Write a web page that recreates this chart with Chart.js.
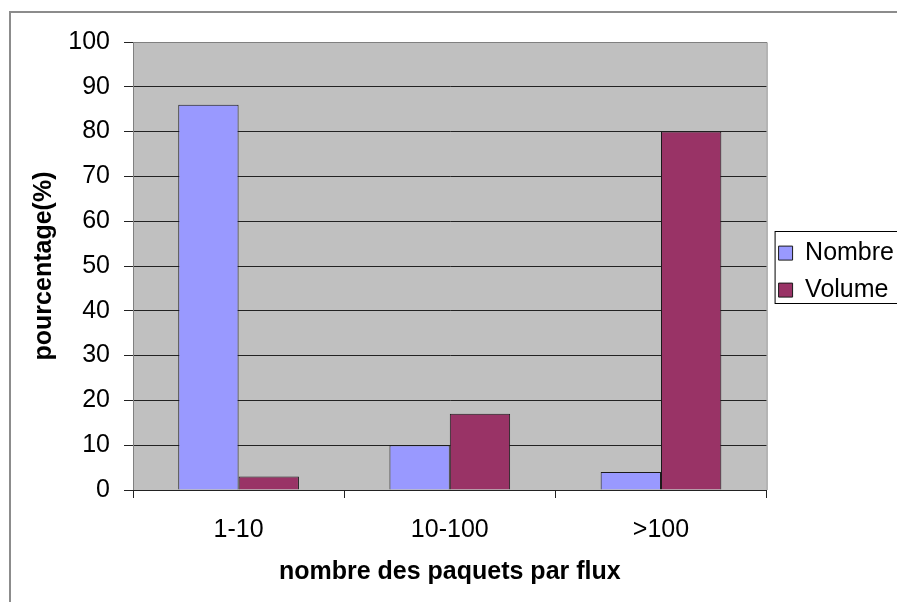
<!DOCTYPE html>
<html>
<head>
<meta charset="utf-8">
<script src="https://cdn.jsdelivr.net/npm/chart.js@4"></script>
<style>
  html, body { margin: 0; padding: 0; background: #fff; overflow: hidden; }
  #wrap { width: 897px; height: 602px; overflow: hidden; }
  canvas { display: block; }
</style>
</head>
<body>
<div id="wrap"><canvas id="flux-chart" width="920" height="620"></canvas></div>
<script>
// data
const categories = ['1-10', '10-100', '>100'];
const nombre = [86, 10, 4];
const volume = [3, 17, 80];
const yMin = 0, yMax = 100, yStep = 10;

Chart.defaults.font.family = "'Liberation Sans', Arial, sans-serif";
Chart.defaults.color = '#000';

// grey plot area, outer frame, legend frame
const excelLook = {
    id: 'excelLook',
    beforeDraw(chart) {
        const { ctx, chartArea: a } = chart;
        ctx.save();
        ctx.fillStyle = '#fff';
        ctx.fillRect(0, 0, chart.width, chart.height);
        ctx.strokeStyle = '#8c8c8c';
        ctx.lineWidth = 2;
        ctx.strokeRect(10, 12, chart.width + 20, chart.height - 6);
        ctx.fillStyle = '#c0c0c0';
        ctx.fillRect(a.left, a.top, a.right - a.left, a.bottom - a.top);
        ctx.restore();
    },
    afterDraw(chart) {
        const { ctx, chartArea: a, legend } = chart;
        ctx.save();
        ctx.strokeStyle = '#808080';
        ctx.lineWidth = 1;
        ctx.beginPath();
        ctx.moveTo(a.left, a.top + 0.5);
        ctx.lineTo(a.right + 0.5, a.top + 0.5);
        ctx.lineTo(a.right + 0.5, a.bottom);
        ctx.stroke();
        const boxes = legend.legendHitBoxes;
        if (boxes.length) {
            const top = boxes[0].top - 10;
            const last = boxes[boxes.length - 1];
            const bottom = last.top + last.height;
            ctx.strokeStyle = '#000';
            ctx.strokeRect(legend.left + 8.5, Math.round(top) + 0.5, chart.width, Math.round(bottom - top));
        }
        ctx.restore();
    }
};

const fluxChart = new Chart(document.getElementById('flux-chart'), {
    type: 'bar',
    data: {
        labels: categories,
        datasets: [
            {
                label: 'Nombre',
                data: nombre,
                backgroundColor: '#9999ff',
                borderColor: '#1a1a1a',
                borderWidth: 1,
                categoryPercentage: 2 / 3.5,
                barPercentage: 1
            },
            {
                label: 'Volume',
                data: volume,
                backgroundColor: '#993366',
                borderColor: '#1a1a1a',
                borderWidth: 1,
                categoryPercentage: 2 / 3.5,
                barPercentage: 1
            }
        ]
    },
    options: {
        responsive: false,
        animation: false,
        devicePixelRatio: 1,
        layout: { padding: { left: 10, top: 42, right: 16, bottom: 20 } },
        scales: {
            y: {
                min: yMin,
                max: yMax,
                afterFit: (scale) => { scale.width = 123; },
                ticks: { stepSize: yStep, padding: 14, font: { size: 25 } },
                grid: {
                    color: (c) => c.tick && c.tick.value === yMax ? '#808080' : '#222',
                    tickColor: '#222',
                    tickLength: 9
                },
                border: { color: '#808080' },
                title: {
                    display: true,
                    text: 'pourcentage(%)',
                    font: { size: 25, weight: 'bold' },
                    padding: { top: 19, bottom: 9 }
                }
            },
            x: {
                afterFit: (scale) => { scale.height = 110; },
                ticks: { padding: 17, font: { size: 25 } },
                grid: {
                    offset: true,
                    drawOnChartArea: false,
                    tickColor: '#222',
                    tickLength: 8
                },
                border: { color: '#222' },
                title: {
                    display: true,
                    text: 'nombre des paquets par flux',
                    font: { size: 25, weight: 'bold' },
                    padding: { top: 12, bottom: 13 }
                }
            }
        },
        plugins: {
            legend: {
                position: 'right',
                fullSize: false,
                // empty title only pushes the entries down a little
                title: { display: true, text: '', font: { size: 1 }, padding: { top: 5, bottom: 5 } },
                labels: {
                    boxWidth: 14,
                    boxHeight: 14,
                    padding: 12,
                    font: { size: 25 }
                }
            },
            tooltip: { enabled: false }
        }
    },
    plugins: [excelLook]
});
</script>
</body>
</html>
